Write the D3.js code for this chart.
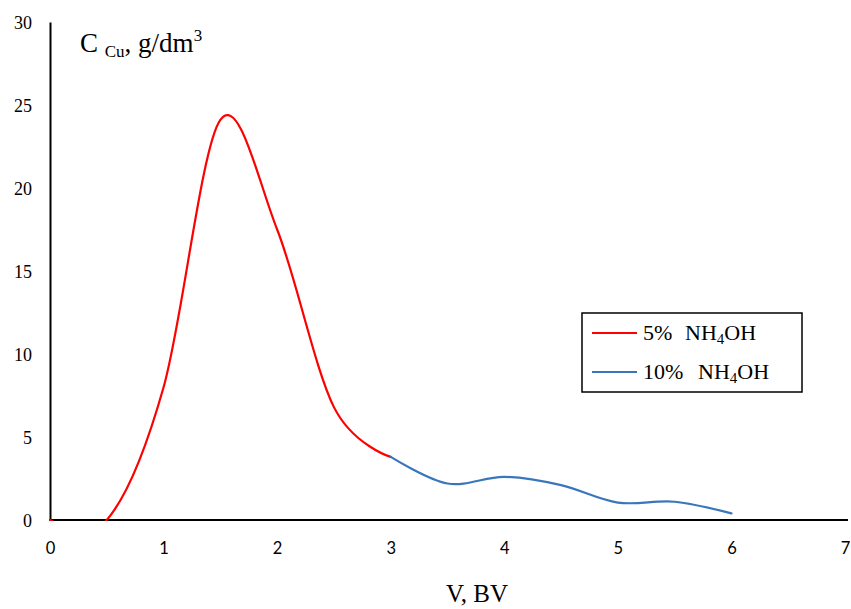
<!DOCTYPE html>
<html>
<head>
<meta charset="utf-8">
<script src="https://cdn.jsdelivr.net/npm/d3@7"></script>
<style>
  html, body { margin: 0; padding: 0; background: #fff; }
  svg { display: block; }
</style>
</head>
<body>
<svg id="chart" width="851" height="609"></svg>
<script>
// Copper concentration in the eluate vs. eluate volume (bed volumes)
const xTicks = [0, 1, 2, 3, 4, 5, 6, 7];
const yTicks = [0, 5, 10, 15, 20, 25, 30];

const volume5 = [0, 0.5, 1, 1.5, 2, 2.5, 3];
const conc5   = [0, 0, 8, 24.1, 17.5, 6.8, 3.8];

const volume10 = [3, 3.5, 4, 4.5, 5, 5.5, 6];
const conc10   = [3.8, 2.2, 2.6, 2.1, 1.05, 1.1, 0.4];

const seriesNames = ["5%", "10%"];
const seriesColors = ["#ff0000", "#3a76bc"];

const svg = d3.select("#chart");

const x = d3.scaleLinear().domain([0, 7]).range([50, 845]);
const y = d3.scaleLinear().domain([0, 30]).range([520, 22]);

// Y axis: line with serif labels, no tick marks
const yAxis = svg.append("g")
  .attr("transform", `translate(${x(0)},0)`)
  .call(d3.axisLeft(y).tickValues(yTicks).tickFormat(d3.format("d"))
    .tickSize(0).tickSizeOuter(0).tickPadding(18));
yAxis.select(".domain").attr("stroke", "#000").attr("stroke-width", 2);
yAxis.selectAll("text")
  .attr("font-family", "'Liberation Serif', 'Times New Roman', serif")
  .attr("font-size", 18).attr("fill", "#000").attr("dy", "0.38em");

// X axis: line with sans labels
const xAxis = svg.append("g")
  .attr("transform", `translate(0,${y(0)})`)
  .call(d3.axisBottom(x).tickValues(xTicks).tickFormat(d3.format("d"))
    .tickSize(0).tickSizeOuter(0).tickPadding(22));
xAxis.select(".domain").attr("stroke", "#000").attr("stroke-width", 2)
  .attr("d", `M${x(0) - 1},0H${x(7) + 3}`);
xAxis.selectAll("text")
  .attr("font-family", "Lato, 'Open Sans', sans-serif")
  .attr("font-size", 16.5).attr("fill", "#000");

// Plot-area clip so smoothed curves do not cross below the axis
svg.append("clipPath").attr("id", "plotClip")
  .append("rect")
  .attr("x", x(0) - 1).attr("y", y(30))
  .attr("width", x(7) - x(0) + 4).attr("height", y(0) - y(30) + 1);

const line = d3.line()
  .x(d => x(d[0]))
  .y(d => y(d[1]))
  .curve(d3.curveCardinal.tension(0));

const series = [
  d3.zip(volume5, conc5),
  d3.zip(volume10, conc10)
];

svg.append("g").attr("clip-path", "url(#plotClip)")
  .selectAll("path")
  .data(series)
  .join("path")
  .attr("d", line)
  .attr("fill", "none")
  .attr("stroke", (d, i) => seriesColors[i])
  .attr("stroke-width", 2.2)
  .attr("stroke-linejoin", "round")
  .attr("stroke-linecap", "round");

// Y-axis title: C_Cu, g/dm³
const serif = "'Liberation Serif', 'Times New Roman', serif";
const title = svg.append("text")
  .attr("x", 80).attr("y", 52)
  .attr("font-family", serif).attr("font-size", 27).attr("fill", "#000");
title.append("tspan").text("C\u00a0");
title.append("tspan").attr("font-size", 17).attr("dy", 5).text("Cu");
title.append("tspan").attr("dy", -5).text(", g/dm");
title.append("tspan").attr("font-size", 17).attr("dy", -11).text("3");

// X-axis title
svg.append("text")
  .attr("x", 477).attr("y", 602)
  .attr("text-anchor", "middle")
  .attr("font-family", serif).attr("font-size", 25).attr("fill", "#000")
  .text("V, BV");

// Legend
const legend = svg.append("g");
legend.append("rect")
  .attr("x", 582).attr("y", 313).attr("width", 220).attr("height", 79)
  .attr("fill", "#fff").attr("stroke", "#000").attr("stroke-width", 1.5);

const rowY = [333, 372];
const nhX = [685, 698];
seriesNames.forEach((name, i) => {
  legend.append("line")
    .attr("x1", 592).attr("x2", 637)
    .attr("y1", rowY[i]).attr("y2", rowY[i])
    .attr("stroke", seriesColors[i]).attr("stroke-width", 2.2);
  legend.append("text")
    .attr("x", 643).attr("y", rowY[i] + 7)
    .attr("font-family", serif).attr("font-size", 22).attr("fill", "#000")
    .text(name);
  const t = legend.append("text")
    .attr("x", nhX[i]).attr("y", rowY[i] + 7)
    .attr("font-family", serif).attr("font-size", 22).attr("fill", "#000");
  t.append("tspan").text("NH");
  t.append("tspan").attr("font-size", 15).attr("dy", 4).text("4");
  t.append("tspan").attr("dy", -4).text("OH");
});
</script>
</body>
</html>
